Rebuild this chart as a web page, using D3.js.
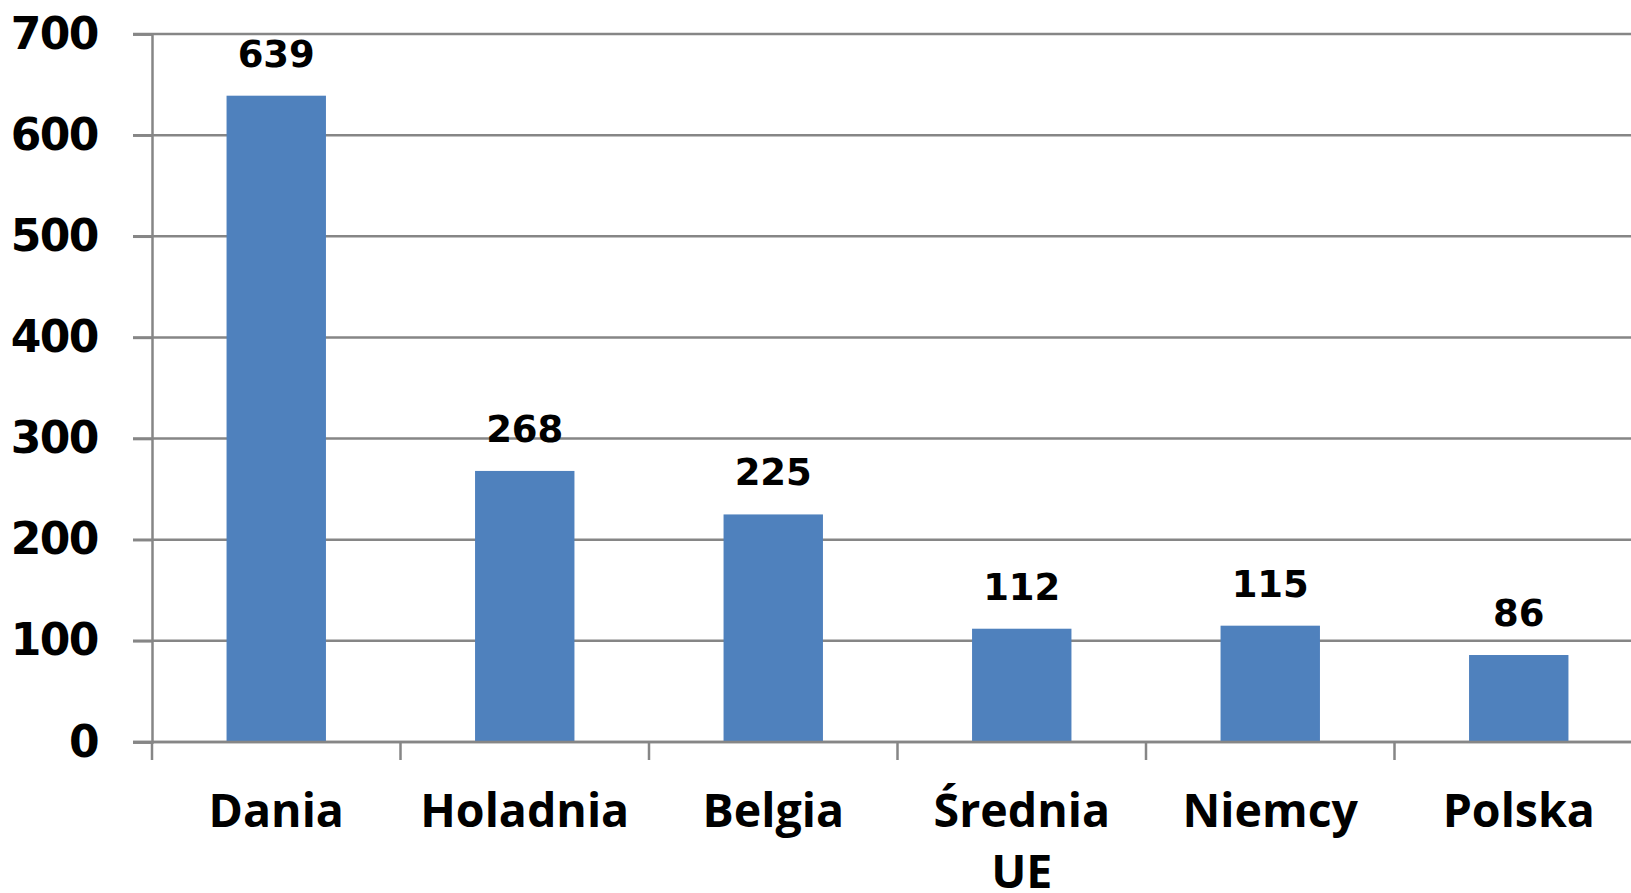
<!DOCTYPE html>
<html>
<head>
<meta charset="utf-8">
<script src="https://cdn.jsdelivr.net/npm/d3@7"></script>
<style>
  body { margin: 0; background: #fff; overflow: hidden; }
  .num { font-family: "DejaVu Sans", sans-serif; font-weight: bold; }
  .cat { font-family: "Open Sans", sans-serif; font-weight: bold; }
</style>
</head>
<body>
<div class="d3-chart"></div>
<script>
const categories = ["Dania", "Holadnia", "Belgia", "Średnia UE", "Niemcy", "Polska"];
const values = [639, 268, 225, 112, 115, 86];
const yTicks = [0, 100, 200, 300, 400, 500, 600, 700];

const width = 1631;
const height = 893;
const margin = {top: 34, left: 152, bottom: 151};
const plotRight = margin.left + 6 * 248.5;  // last band runs past the right edge
const gridColor = "#868686";

const svg = d3.select(".d3-chart")
  .append("svg")
  .attr("width", width)
  .attr("height", height);

const x = d3.scaleBand()
  .domain(categories)
  .range([margin.left, plotRight])
  .paddingInner(0.6)
  .paddingOuter(0.3);

const y = d3.scaleLinear()
  .domain([0, 700])
  .range([height - margin.bottom, margin.top]);

// horizontal gridlines, starting at the tick stubs left of the axis
svg.append("g")
  .selectAll("line")
  .data(yTicks)
  .join("line")
    .attr("x1", margin.left - 19)
    .attr("x2", width)
    .attr("y1", d => y(d))
    .attr("y2", d => y(d))
    .attr("stroke", gridColor)
    .attr("stroke-width", 2.5);

// y axis with labels
const yAxis = svg.append("g")
  .attr("transform", `translate(${margin.left},0)`)
  .call(d3.axisLeft(y).tickValues(yTicks).tickSize(19).tickPadding(35));
yAxis.select(".domain").attr("stroke", gridColor).attr("stroke-width", 2.5);
yAxis.selectAll(".tick line").attr("stroke", gridColor).attr("stroke-width", 2.5);
yAxis.selectAll(".tick text")
  .attr("class", "num")
  .attr("font-size", 44)
  .attr("letter-spacing", -1.5)
  .attr("fill", "#000");

// bars
svg.append("g")
  .selectAll("rect")
  .data(values)
  .join("rect")
    .attr("x", (d, i) => x(categories[i]))
    .attr("y", d => y(d))
    .attr("width", x.bandwidth())
    .attr("height", d => y(0) - y(d))
    .attr("fill", "#4F81BD");

// value labels above bars
svg.append("g")
  .selectAll("text")
  .data(values)
  .join("text")
    .attr("class", "num")
    .attr("x", (d, i) => x(categories[i]) + x.bandwidth() / 2)
    .attr("y", d => y(d) - 29)
    .attr("text-anchor", "middle")
    .attr("font-size", 37)
    .text(d => d);

// x axis line and ticks between categories
const x0 = y(0);
svg.append("line")
  .attr("x1", margin.left - 19)
  .attr("x2", width)
  .attr("y1", x0)
  .attr("y2", x0)
  .attr("stroke", gridColor)
  .attr("stroke-width", 2.5);

const step = x.step();
svg.append("g")
  .selectAll("line")
  .data(categories)
  .join("line")
    .attr("x1", d => x(d) - step * 0.3)
    .attr("x2", d => x(d) - step * 0.3)
    .attr("y1", x0)
    .attr("y2", x0 + 18)
    .attr("stroke", gridColor)
    .attr("stroke-width", 2.5);

// category labels, wrapped on spaces
const catText = svg.append("g")
  .selectAll("text")
  .data(categories)
  .join("text")
    .attr("class", "cat")
    .attr("x", d => x(d) + x.bandwidth() / 2)
    .attr("y", 827)
    .attr("text-anchor", "middle")
    .attr("font-size", 46.5);

catText.selectAll("tspan")
  .data(d => d.split(" ").map(w => ({w, cx: x(d) + x.bandwidth() / 2})))
  .join("tspan")
    .attr("x", d => d.cx)
    .attr("dy", (d, i) => i === 0 ? 0 : 61)
    .text(d => d.w);
</script>
</body>
</html>
